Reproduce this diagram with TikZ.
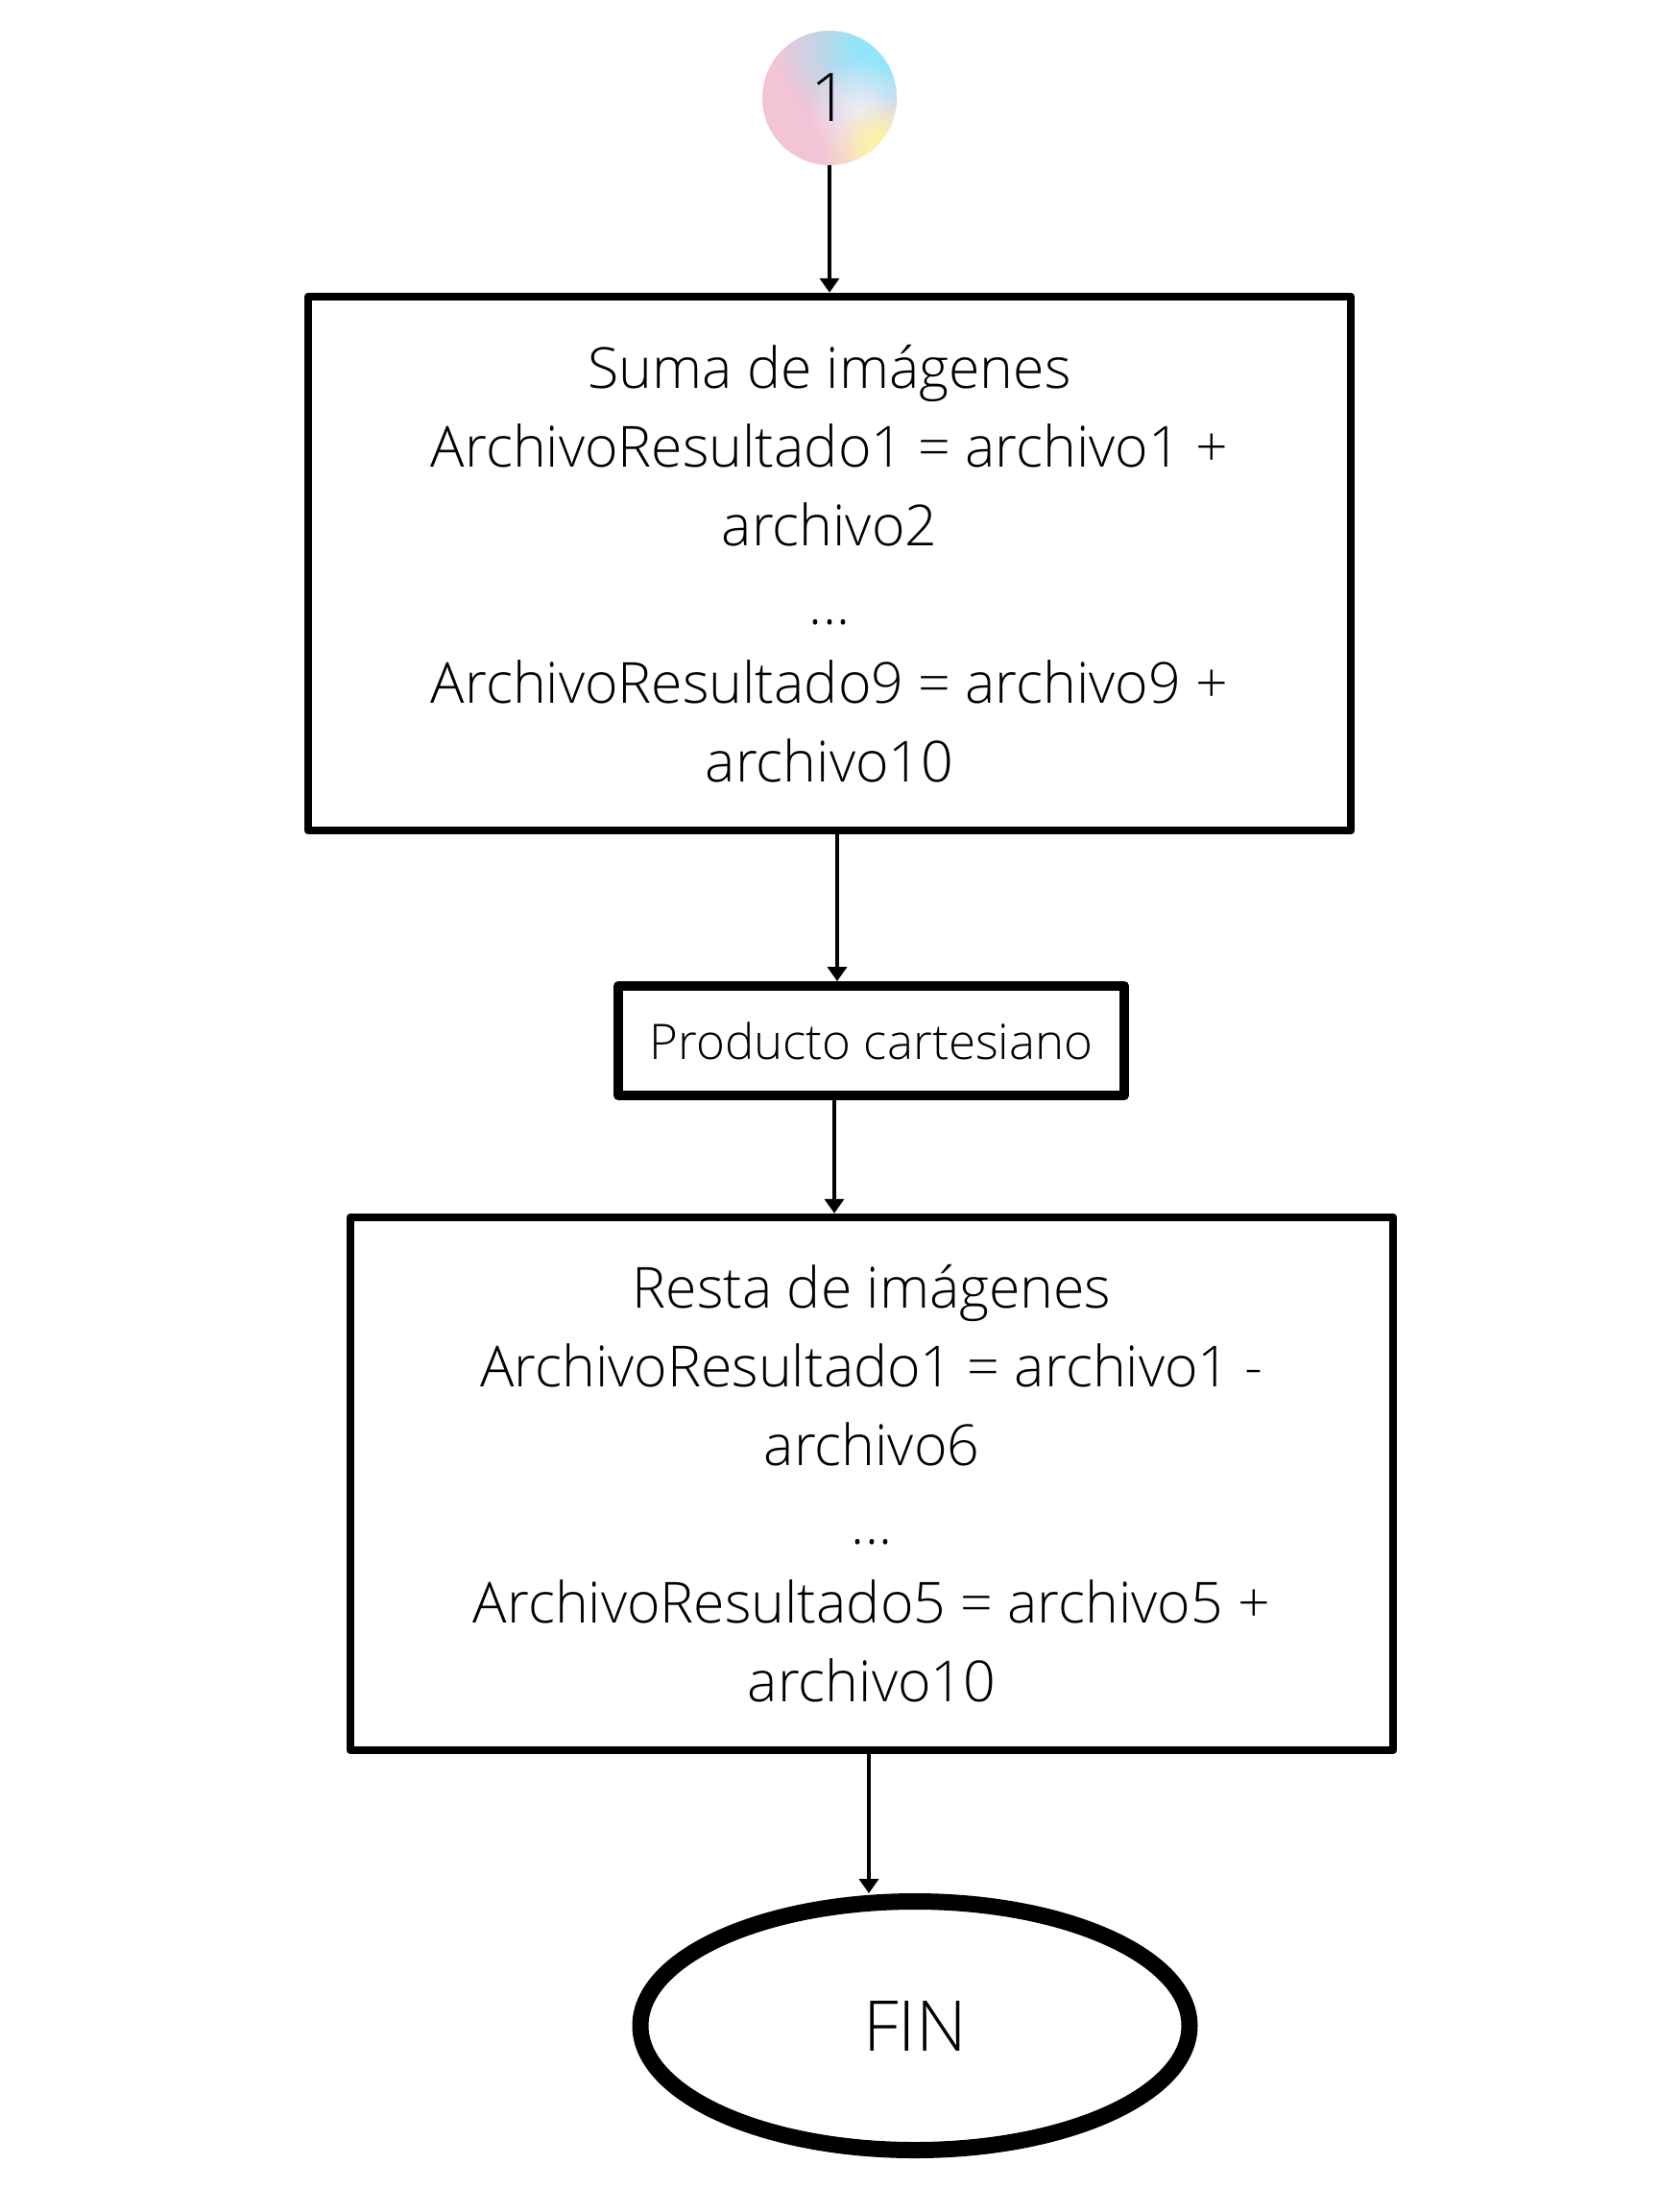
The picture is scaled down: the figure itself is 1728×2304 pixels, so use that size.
\documentclass[tikz,border=0pt]{standalone}
\usepackage{fontspec}
\IfFontExistsTF{Open Sans Light}{\setmainfont{Open Sans Light}}{\setmainfont{Open Sans}}
\usetikzlibrary{arrows.meta,shapes.geometric,fadings}
\definecolor{cpink}{HTML}{F3C4D6}
\definecolor{ccyan}{HTML}{8FE7FB}
\definecolor{cyell}{HTML}{FDF4A6}
\definecolor{cwhite}{HTML}{EEEDF9}
\tikzfading[name=softfade, inner color=transparent!0, outer color=transparent!100]
\tikzset{
  arr/.style={line width=4.5pt, -{Triangle[length=15pt,width=20pt]}},
  procbox/.style={draw, rectangle, line width=8.5pt, line join=round, inner sep=0pt,
    align=center, font=\fontsize{59}{82}\selectfont},
}
\begin{document}
\begin{tikzpicture}[x=1pt,y=-1pt]
\useasboundingbox (0,0) rectangle (1728,2304);
\fill[white] (0,0) rectangle (1728,2304);

% gradient circle
\begin{scope}
  \clip (864,102) circle (70);
  \fill[cpink] (864,102) circle (70);
  \fill[ccyan, path fading=softfade] (900,45) circle (95);
  \fill[ccyan, path fading=softfade] (915,70) circle (55);
  \fill[cwhite, path fading=softfade] (895,115) circle (55);
  \fill[cyell, path fading=softfade] (920,165) circle (65);
  \fill[cyell, path fading=softfade] (915,150) circle (35);
\end{scope}
\node[circle, minimum size=140pt, inner sep=0pt, font=\fontsize{70}{70}\selectfont] (c1) at (864,102) {1};

\node[procbox, minimum width=1086pt, minimum height=556pt] (box1) at (864,587)
  {Suma de imágenes\\ArchivoResultado1 = archivo1 +\\archivo2\\...\\ArchivoResultado9 = archivo9 +\\archivo10};

\node[procbox, line width=10pt, minimum width=527pt, minimum height=114pt,
  font=\fontsize{51}{60}\selectfont] (prod) at (907.5,1084) {Producto cartesiano};

\node[procbox, minimum width=1086pt, minimum height=555pt] (box3) at (908,1545.5)
  {Resta de imágenes\\ArchivoResultado1 = archivo1 -\\archivo6\\...\\ArchivoResultado5 = archivo5 +\\archivo10};

\node[draw, ellipse, line width=17pt, minimum width=572pt, minimum height=259pt, inner sep=0pt,
  font=\fontsize{73}{73}\selectfont] (fin) at (953,2110) {FIN};

\coordinate (a2) at (872,0);
\coordinate (a3) at (869,0);
\coordinate (a4) at (905,0);

\draw[arr] (c1.south) -- (box1.north);
\draw[arr] (box1.south -| a2) -- (prod.north -| a2);
\draw[arr] (prod.south -| a3) -- (box3.north -| a3);
\draw[arr] (box3.south -| a4) -- (fin.north -| a4);
\end{tikzpicture}
\end{document}
